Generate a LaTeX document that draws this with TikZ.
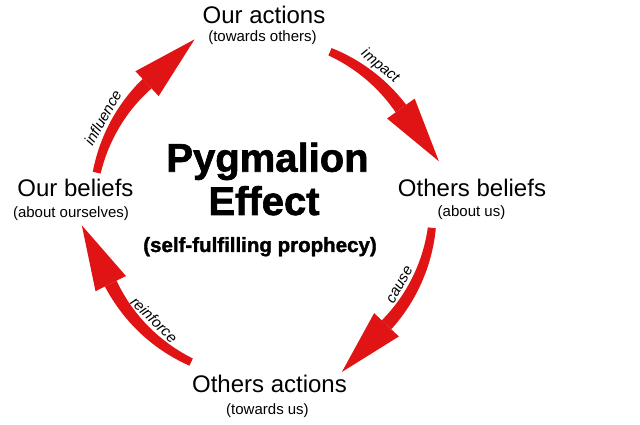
\documentclass[tikz,border=0pt]{standalone}
\usepackage{fontspec}
\setmainfont{Liberation Sans}
\newfontfamily\heavyfont[FakeBold=1.6]{Liberation Sans Bold}
\usetikzlibrary{calc}
\definecolor{arrred}{RGB}{224,20,20}
\tikzset{
  lbl/.style={inner sep=0pt, anchor=base, font=\fontsize{24}{28}\selectfont},
  sublbl/.style={inner sep=0pt, anchor=base, font=\fontsize{15}{18}\selectfont},
  ttl/.style={inner sep=0pt, anchor=base, font=\fontsize{40}{44}\selectfont\heavyfont\bfseries},
  subttl/.style={inner sep=0pt, anchor=base, font=\fontsize{20.5}{24}\selectfont\heavyfont\bfseries},
  arrlbl/.style={inner sep=0pt, font=\fontsize{15}{18}\selectfont\itshape},
}
% #1 start angle, #2 end angle (head base), #3 name of tip coordinate
\newcommand\cycarrow[3]{%
  \fill[arrred] plot[domain=#1:#2, samples=40]
     ({263+(170+0.5*(8+5*(\x-#1)/(#2-#1)))*cos(\x)}, {217+(170+0.5*(8+5*(\x-#1)/(#2-#1)))*sin(\x)})
     -- plot[domain=#2:#1, samples=40]
     ({263+(170-0.5*(8+5*(\x-#1)/(#2-#1)))*cos(\x)}, {217+(170-0.5*(8+5*(\x-#1)/(#2-#1)))*sin(\x)})
     -- cycle;
  \coordinate (#3) at ($(C)+(#2:170)+(#2-90:65)$);
  \fill[arrred] ($(C)+(#2:187)$) -- (#3) -- ($(C)+(#2:153)$) -- cycle;
}
\begin{document}
\begin{tikzpicture}[x=1pt,y=1pt]
\useasboundingbox (0,0) rectangle (640,425);
\fill[white] (0,0) rectangle (640,425);
\coordinate (C) at (263,217);

% arrows
\cycarrow{168}{133}{tipinf}
\cycarrow{66.8}{35.8}{tipimp}
\cycarrow{353.3}{316.6}{tipcau}
\cycarrow{245}{206.4}{tiprei}

% arrow labels
\node[arrlbl, rotate=60.6] (linf) at ($(C)+(150.6:184)$) {influence};
\node[arrlbl, rotate=-39.5] (limp) at ($(C)+(50.5:184)$) {impact};
\node[arrlbl, rotate=60.7] (lcau) at ($(C)+(330.7:157)$) {cause};
\node[arrlbl, rotate=-44.2] (lrei) at ($(C)+(225.8:156)$) {reinforce};

% main labels
\node[lbl] (ouract) at (264,401) {Our actions};
\node[sublbl] (ouractsub) at (262.5,383) {(towards others)};
\node[lbl] (othbel) at (472,228.3) {Others beliefs};
\node[sublbl] (othbelsub) at (471.5,208.3) {(about us)};
\node[lbl] (othact) at (269.5,32) {Others actions};
\node[sublbl] (othactsub) at (267.5,10) {(towards us)};
\node[lbl] (ourbel) at (75.5,228.3) {Our beliefs};
\node[sublbl] (ourbelsub) at (71,207) {(about ourselves)};

% title
\node[ttl] (t1) at (267.5,253.3) {Pygmalion};
\node[ttl] (t2) at (264,210) {Effect};
\node[subttl] (t3) at (260,173) {(self-fulfilling prophecy)};
\end{tikzpicture}
\end{document}
